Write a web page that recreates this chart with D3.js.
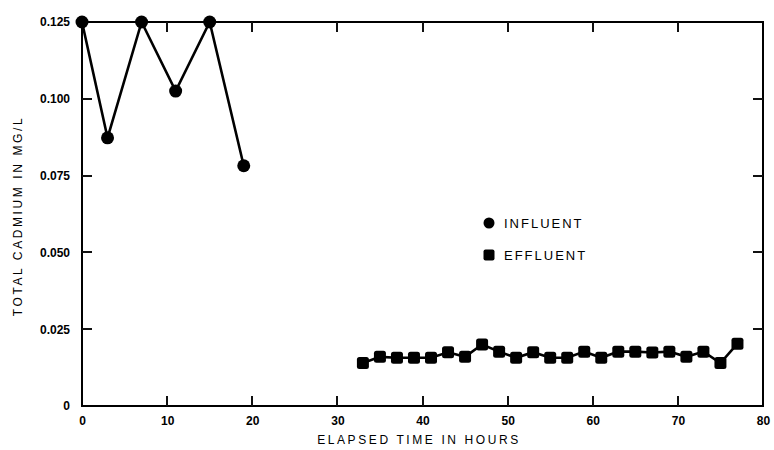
<!DOCTYPE html>
<html><head><meta charset="utf-8">
<script src="https://cdn.jsdelivr.net/npm/d3@7"></script>
<style>body{margin:0;background:#fff}svg{display:block}text{font-family:"Liberation Sans",Arial,sans-serif;fill:#000}</style>
</head><body><svg id="c" width="774" height="450"></svg>
<script>
const influentHours = [0, 3, 7, 11, 15, 19];
const influentValues = [0.125, 0.0873, 0.125, 0.1025, 0.125, 0.0782];
const effluentHours = [33, 35, 37, 39, 41, 43, 45, 47, 49, 51, 53, 55, 57, 59, 61, 63, 65, 67, 69, 71, 73, 75, 77];
const effluentValues = [0.014, 0.016, 0.0157, 0.0157, 0.0157, 0.0175, 0.016, 0.020, 0.0177, 0.0157, 0.0175, 0.0157, 0.0157, 0.0177, 0.0157, 0.0177, 0.0177, 0.0174, 0.0177, 0.016, 0.0177, 0.014, 0.0203];
const xTicks = [0, 10, 20, 30, 40, 50, 60, 70, 80];
const yTicks = [0, 0.025, 0.05, 0.075, 0.1, 0.125];
const yTickLabels = ["0", "0.025", "0.050", "0.075", "0.100", "0.125"];
const legendLabels = ["INFLUENT", "EFFLUENT"];
const xTitle = "ELAPSED TIME IN HOURS";
const yTitle = "TOTAL CADMIUM IN MG/L";

const svg = d3.select("#c");
const L = 82, R = 763, T = 22, B = 406;
const x = d3.scaleLinear().domain([0, 80]).range([L, R]);
const y = d3.scaleLinear().domain([0, 0.125]).range([B, T]);

// frame
svg.append("rect").attr("x", L).attr("y", T).attr("width", R - L).attr("height", B - T)
  .attr("fill", "none").attr("stroke", "#000").attr("stroke-width", 2);

// tick labels via d3 axes
const bx = svg.append("g").attr("transform", `translate(0,${B})`)
  .call(d3.axisBottom(x).tickValues(xTicks).tickSize(0).tickPadding(10).tickFormat(d3.format("d")));
const ly = svg.append("g").attr("transform", `translate(${L},0)`)
  .call(d3.axisLeft(y).tickValues(yTicks).tickSize(0).tickPadding(12).tickFormat((d, i) => yTickLabels[i]));
[bx, ly].forEach(g => {
  g.select(".domain").remove();
  g.selectAll("line").remove();
  g.selectAll("text").attr("font-size", 12).attr("font-weight", "bold").attr("fill", "#000")
    .style("font-family", '"Liberation Sans",Arial,sans-serif');
});

// inward tick marks on all four sides, drawn as filled rects
const tk = 10, tw = 2;
const xi = xTicks.slice(1, -1), yi = yTicks.slice(1, -1);
const tg = svg.append("g").attr("fill", "#111");
tg.selectAll("rect.tb").data(xi).join("rect").attr("class", "tb")
  .attr("x", d => Math.round(x(d)) - tw / 2).attr("y", B - tk).attr("width", tw).attr("height", tk);
tg.selectAll("rect.tt").data(xi).join("rect").attr("class", "tt")
  .attr("x", d => Math.round(x(d)) - tw / 2).attr("y", T).attr("width", tw).attr("height", tk);
tg.selectAll("rect.tl").data(yi).join("rect").attr("class", "tl")
  .attr("x", L).attr("y", d => Math.round(y(d)) - tw / 2).attr("width", tk).attr("height", tw);
tg.selectAll("rect.tr").data(yi).join("rect").attr("class", "tr")
  .attr("x", R - tk).attr("y", d => Math.round(y(d)) - tw / 2).attr("width", tk).attr("height", tw);

// lines
const line = d3.line().x(d => x(d[0])).y(d => y(d[1]));
const inf = influentHours.map((h, i) => [h, influentValues[i]]);
const eff = effluentHours.map((h, i) => [h, effluentValues[i]]);
svg.append("path").datum(inf).attr("d", line).attr("fill", "none").attr("stroke", "#000").attr("stroke-width", 2.6);
svg.append("path").datum(eff).attr("d", line).attr("fill", "none").attr("stroke", "#000").attr("stroke-width", 2.6);

svg.selectAll(".inf").data(inf).join("circle").attr("cx", d => x(d[0])).attr("cy", d => y(d[1])).attr("r", 6.5).attr("fill", "#000");
const s = 12;
svg.selectAll(".eff").data(eff).join("rect").attr("x", d => x(d[0]) - s / 2).attr("y", d => y(d[1]) - s / 2)
  .attr("width", s).attr("height", s).attr("rx", 2.5).attr("fill", "#000");

// legend
const lg = svg.append("g");
lg.append("circle").attr("cx", 489).attr("cy", 223).attr("r", 5.5).attr("fill", "#000");
lg.append("rect").attr("x", 489 - 5.5).attr("y", 255 - 5.5).attr("width", 11).attr("height", 11).attr("rx", 2).attr("fill", "#000");
lg.selectAll("text.lg").data(legendLabels).join("text").attr("x", 504).attr("y", (d, i) => 228 + i * 32)
  .attr("font-size", 13).attr("letter-spacing", 2).text(d => d);

// titles
svg.append("text").attr("x", 419).attr("y", 444).attr("text-anchor", "middle").attr("font-size", 12)
  .attr("letter-spacing", 2.6).text(xTitle);
svg.append("text").attr("transform", "translate(22,216) rotate(-90)").attr("text-anchor", "middle").attr("font-size", 12)
  .attr("letter-spacing", 2.6).text(yTitle);
</script></body></html>
